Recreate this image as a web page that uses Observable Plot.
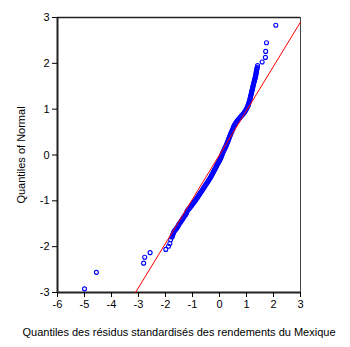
<!DOCTYPE html>
<html><head><meta charset="utf-8">
<script src="https://cdn.jsdelivr.net/npm/d3@7"></script>
<script src="https://cdn.jsdelivr.net/npm/@observablehq/plot@0.6"></script>
<style>body{margin:0;background:#fff} svg{display:block}</style>
</head><body><div id="chart"></div>
<script>
// Quantiles of standardized residuals (x) vs normal quantiles (y)
const residQ = [
 -5.0,-4.56,-2.81,-2.77,-2.57,-1.99,-1.89,-1.84,-1.81,
 -1.76,-1.745,-1.73,-1.715,-1.70,-1.68,-1.645,-1.61,-1.58,-1.55,-1.525,-1.51,-1.48,-1.445,-1.415,-1.385,-1.36,-1.335,-1.31,-1.275,-1.245,-1.225,-1.21,-1.19,-1.16,-1.12,-1.085,-1.05,-1.02,-0.99,-0.955,-0.925,-0.895,-0.865,-0.835,-0.805,-0.78,-0.75,-0.72,-0.695,-0.665,-0.635,-0.61,-0.58,-0.555,-0.525,-0.50,-0.47,-0.445,-0.415,-0.39,-0.36,-0.335,-0.31,-0.29,-0.265,-0.245,-0.22,-0.20,-0.175,-0.155,-0.13,-0.11,-0.09,-0.065,-0.04,-0.02,0.005,0.025,0.045,0.065,0.08,0.095,0.11,0.13,0.15,0.17,0.19,0.21,0.23,0.25,0.265,0.285,0.30,0.32,0.335,0.35,0.365,0.38,0.40,0.415,0.435,0.45,0.47,0.49,0.505,0.52,0.54,0.56,0.59,0.615,0.645,0.68,0.715,0.75,0.785,0.82,0.86,0.895,0.925,0.955,0.98,1.00,1.025,1.045,1.06,1.075,1.09,1.10,1.115,1.125,1.135,1.145,1.155,1.165,1.175,1.185,1.195,1.205,1.215,1.225,1.235,1.245,1.255,1.265,1.275,1.29,1.30,1.31,1.32,1.33,1.34,1.35,1.355,1.36,1.37,1.38,1.39,1.395,1.41,
 1.58,1.70,1.71,1.74,2.085
];
const normalQ = [
 -2.92,-2.56,-2.36,-2.23,-2.13,-2.06,-1.99,-1.93,-1.85,
 -1.79,-1.765,-1.74,-1.715,-1.69,-1.665,-1.64,-1.615,-1.59,-1.565,-1.54,-1.515,-1.49,-1.465,-1.44,-1.415,-1.39,-1.365,-1.34,-1.315,-1.29,-1.265,-1.24,-1.215,-1.19,-1.165,-1.14,-1.115,-1.09,-1.065,-1.04,-1.015,-0.99,-0.965,-0.94,-0.915,-0.89,-0.865,-0.84,-0.815,-0.79,-0.765,-0.74,-0.715,-0.69,-0.665,-0.64,-0.615,-0.59,-0.565,-0.54,-0.515,-0.49,-0.465,-0.44,-0.415,-0.39,-0.365,-0.34,-0.315,-0.29,-0.265,-0.24,-0.215,-0.19,-0.165,-0.14,-0.115,-0.09,-0.065,-0.04,-0.015,0.01,0.035,0.06,0.085,0.11,0.135,0.16,0.185,0.21,0.235,0.26,0.285,0.31,0.335,0.36,0.385,0.41,0.435,0.46,0.485,0.51,0.535,0.56,0.585,0.61,0.635,0.66,0.685,0.71,0.735,0.76,0.785,0.81,0.835,0.86,0.885,0.91,0.935,0.96,0.985,1.01,1.035,1.06,1.085,1.11,1.135,1.16,1.185,1.21,1.235,1.26,1.285,1.31,1.335,1.36,1.385,1.41,1.435,1.46,1.485,1.51,1.535,1.56,1.585,1.61,1.635,1.66,1.685,1.71,1.735,1.76,1.785,1.81,1.835,1.86,1.885,1.91,1.95,
 2.03,2.13,2.26,2.45,2.83
];
// Reference (theoretical) line end points
const refLineX = [-3.11, 3.0];
const refLineY = [-3.0, 2.9];
const xTicks = [-6,-5,-4,-3,-2,-1,0,1,2,3];
const yTicks = [-3,-2,-1,0,1,2,3];
const xTitle = "Quantiles des résidus standardisés des rendements du Mexique";
const yTitle = "Quantiles of Normal";

const points = residQ.map((x, i) => ({x, y: normalQ[i]}));
const ref = refLineX.map((x, i) => ({x, y: refLineY[i]}));

const chart = Plot.plot({
  width: 350, height: 347,
  marginLeft: 57, marginRight: 50, marginTop: 17, marginBottom: 55,
  style: {fontFamily: "'Liberation Sans', Arial, sans-serif", fontSize: "11px", color: "#000", background: "#fff"},
  x: {domain: [-6, 3]},
  y: {domain: [-3, 3]},
  marks: [
    Plot.frame({stroke: "#444", strokeWidth: 1}),
    Plot.ruleX([-6], {stroke: "#222", strokeWidth: 2}),
    Plot.ruleY([-3], {stroke: "#222", strokeWidth: 2}),
    Plot.ruleY([3], {stroke: "#222", strokeWidth: 1.5}),
    Plot.axisX({ticks: xTicks, tickSize: 5, tickPadding: 3, tickFormat: d => String(d),
      label: xTitle, labelAnchor: "center", labelArrow: "none", labelOffset: 43}),
    Plot.axisY({ticks: yTicks, tickSize: 5, tickPadding: 3, tickFormat: d => String(d),
      label: yTitle, labelAnchor: "center", labelArrow: "none", labelOffset: 40}),
    Plot.dot(points, {x: "x", y: "y", r: 2, stroke: "#0000ff", strokeWidth: 1.1, fill: "none"}),
    Plot.line(ref, {x: "x", y: "y", stroke: "#ff0000", strokeWidth: 1})
  ]
});
document.getElementById("chart").appendChild(chart);
</script>
</body></html>
